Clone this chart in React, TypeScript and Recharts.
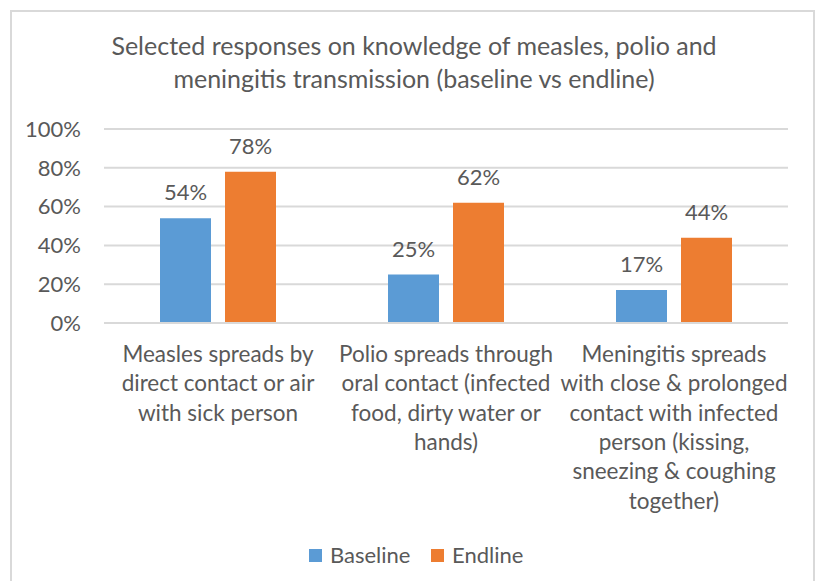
import React from 'react';
import { BarChart, Bar, XAxis, YAxis, CartesianGrid, LabelList, Legend } from 'recharts';

const categories = [
  'Measles spreads by direct contact or air with sick person',
  'Polio spreads through oral contact (infected food, dirty water or hands)',
  'Meningitis spreads with close & prolonged contact with infected person (kissing, sneezing & coughing together)',
];
const categoryLabelLines = [
  ['Measles spreads by', 'direct contact or air', 'with sick person'],
  ['Polio spreads through', 'oral contact (infected', 'food, dirty water or', 'hands)'],
  ['Meningitis spreads', 'with close & prolonged', 'contact with infected', 'person (kissing,', 'sneezing & coughing', 'together)'],
];
const baselineValues = [54, 25, 17];
const endlineValues = [78, 62, 44];
const yTicks = [0, 20, 40, 60, 80, 100];
const titleLines = [
  'Selected responses on knowledge of measles, polio and',
  'meningitis transmission (baseline vs endline)',
];
const seriesNames = ['Baseline', 'Endline'];
const seriesColors = ['#5B9BD5', '#ED7D31'];

const data = categories.map((c, i) => ({
  category: c,
  idx: i,
  baseline: baselineValues[i],
  endline: endlineValues[i],
}));

const FONT = 'Lato, sans-serif';
const TEXT = '#595959';

const XTick = (props: any) => {
  const { x, y, payload } = props;
  const lines = categoryLabelLines[payload.index] || [];
  return (
    <text x={x} y={y} textAnchor="middle" fill={TEXT} fontSize={22.5} fontFamily={FONT}>
      {lines.map((l, i) => (
        <tspan key={i} x={x} y={y + 39 + i * 29.3}>
          {l}
        </tspan>
      ))}
    </text>
  );
};

const legendLefts = [309, 431];
const renderLegend = () => (
  <div style={{ position: 'relative', width: 817, height: 30, fontFamily: FONT, fontSize: 22, color: TEXT }}>
    {seriesNames.map((n, i) => (
      <div key={n} style={{ position: 'absolute', left: legendLefts[i], top: 0, height: 30, lineHeight: '30px', whiteSpace: 'nowrap' }}>
        <span style={{ display: 'inline-block', width: 13, height: 13, background: seriesColors[i], marginRight: 8, verticalAlign: 'middle', position: 'relative', top: -2 }} />
        {n}
      </div>
    ))}
  </div>
);

export default function App() {
  return (
    <div style={{ position: 'absolute', left: 0, top: 0, width: 817, height: 581, overflow: 'hidden', background: '#fff' }}>
      <div style={{ position: 'absolute', left: 10, top: 10, width: 801, height: 600, border: '2px solid #D9D9D9' }} />
      <div style={{ position: 'absolute', left: 0, top: 0 }}>
        <BarChart
          width={817}
          height={581}
          data={data}
          margin={{ top: 129, right: 29, left: 0, bottom: 0 }}
          barGap={14}
        >
          <CartesianGrid vertical={false} stroke="#D9D9D9" strokeWidth={2} />
          <XAxis
            dataKey="category"
            axisLine={{ stroke: '#D9D9D9', strokeWidth: 2 }}
            tickLine={false}
            tickSize={0}
            tickMargin={0}
            height={228}
            interval={0}
            tick={<XTick />}
          />
          <YAxis
            domain={[0, 100]}
            ticks={yTicks}
            tickFormatter={(v: number) => `${v}%`}
            axisLine={false}
            tickLine={false}
            tickSize={0}
            tickMargin={23}
            width={104}
            tick={{ fill: TEXT, fontSize: 22, fontFamily: FONT }}
          />
          <Legend
            verticalAlign="bottom"
            content={renderLegend}
            wrapperStyle={{ position: 'absolute', left: 0, top: 540, width: 817, height: 30 }}
          />
          <Bar dataKey="baseline" name={seriesNames[0]} fill={seriesColors[0]} barSize={51} isAnimationActive={false}>
            <LabelList dataKey="baseline" position="top" offset={18} formatter={(v: any) => `${v}%`} fill={TEXT} fontSize={22} fontFamily={FONT} />
          </Bar>
          <Bar dataKey="endline" name={seriesNames[1]} fill={seriesColors[1]} barSize={51} isAnimationActive={false}>
            <LabelList dataKey="endline" position="top" offset={18} formatter={(v: any) => `${v}%`} fill={TEXT} fontSize={22} fontFamily={FONT} />
          </Bar>
          {titleLines.map((t, i) => (
            <text key={i} x={414} y={55 + i * 33} textAnchor="middle" fill={TEXT} fontSize={25} fontFamily={FONT}>
              {t}
            </text>
          ))}
        </BarChart>
      </div>
    </div>
  );
}
